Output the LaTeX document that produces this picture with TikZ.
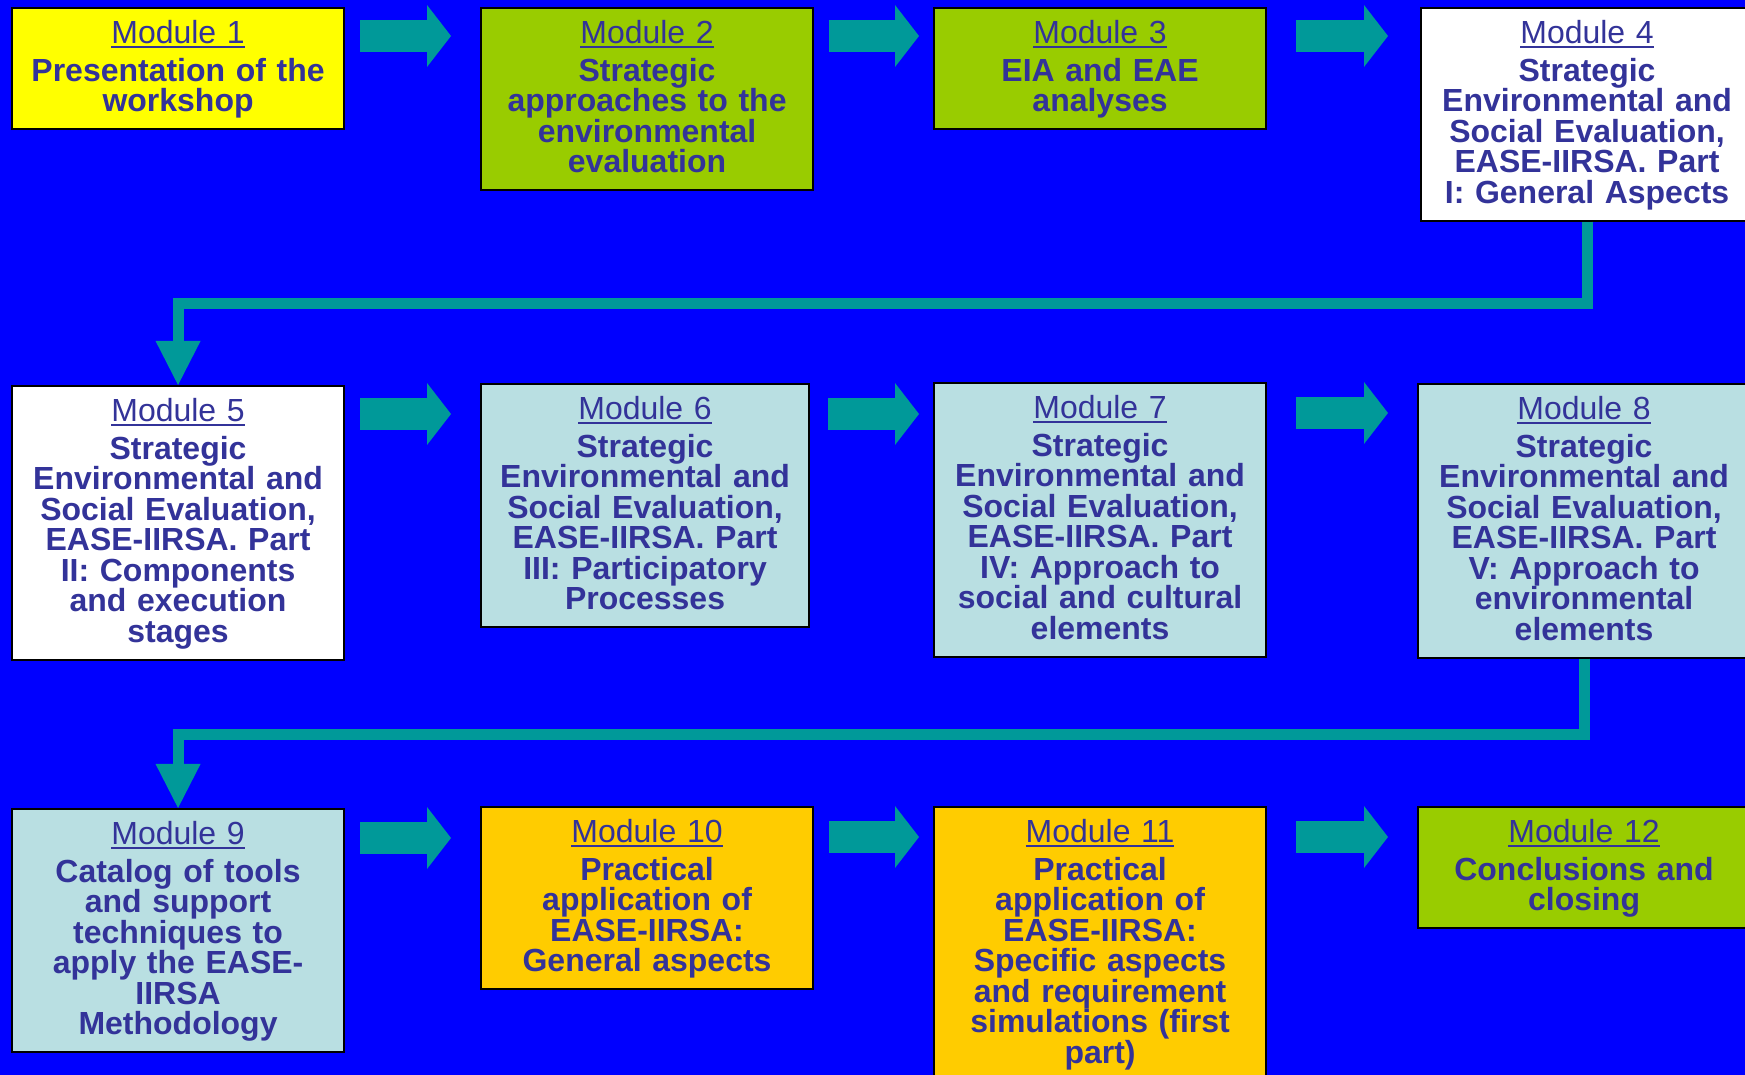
\documentclass[tikz,border=0pt]{standalone}
\usepackage{fontspec}
\setmainfont{Liberation Sans}
\usepackage{xcolor}
\usepackage{tikz}
\usetikzlibrary{arrows.meta, positioning}

\definecolor{bgblue}{HTML}{0000FF}
\definecolor{modtext}{HTML}{333399}
\definecolor{modyellow}{HTML}{FFFF00}
\definecolor{modgreen}{HTML}{99CC00}
\definecolor{modaqua}{HTML}{B9DFE2}
\definecolor{modorange}{HTML}{FFCC00}
\definecolor{flowteal}{HTML}{009999}

% underlined module title
\newcommand\ulmod[1]{\setbox0\hbox{#1}\rlap{\rule[-1.55pt]{\wd0}{0.7pt}}\box0}
\newcommand\modtitle[1]{\rule{0pt}{0.35cm}\textmd{\ulmod{Module #1}}}

\begin{document}
\begin{tikzpicture}
            %Block styles
            \tikzstyle{module} = [draw=black, line width=0.6pt, rectangle, anchor=north west, inner xsep=0pt, inner ysep=0pt, text width=3.32cm, align=center, text=modtext, font=\bfseries\fontsize{9.1}{8.68}\selectfont, execute at end node={\rule[-0.175cm]{0pt}{0.175cm}}]
            \tikzstyle{flow} = [draw=flowteal, line width=0.32cm, -{Triangle[length=0.24cm, width=0.62cm, line width=0pt]}]
            \tikzstyle{wrap} = [draw=flowteal, line width=0.11cm, -{Triangle[length=0.44cm, width=0.45cm, line width=0pt]}]

            \useasboundingbox (0,0) rectangle (17.45,-10.75);
            \fill[bgblue] (0,0) rectangle (17.45,-10.75);
            \clip (0,0) rectangle (17.45,-10.75);

            %Row 1
            \node[module, fill=modyellow] at (0.11,-0.07) (m1) {\modtitle{1}\\[0.075cm]Presentation of the\\workshop};
            \node[module, fill=modgreen] at (4.80,-0.07) (m2) {\modtitle{2}\\[0.075cm]Strategic\\approaches to the\\environmental\\evaluation};
            \node[module, fill=modgreen] at (9.33,-0.07) (m3) {\modtitle{3}\\[0.075cm]EIA and EAE\\analyses};
            \node[module, fill=white] at (14.20,-0.07) (m4) {\modtitle{4}\\[0.075cm]Strategic\\Environmental and\\Social Evaluation,\\EASE-IIRSA. Part\\I: General Aspects};

            %Row 2
            \node[module, fill=white] at (0.11,-3.85) (m5) {\modtitle{5}\\[0.075cm]Strategic\\Environmental and\\Social Evaluation,\\EASE-IIRSA. Part\\II: Components\\and execution\\stages};
            \node[module, fill=modaqua, text width=3.28cm] at (4.80,-3.83) (m6) {\modtitle{6}\\[0.075cm]Strategic\\Environmental and\\Social Evaluation,\\EASE-IIRSA. Part\\III: Participatory\\Processes};
            \node[module, fill=modaqua] at (9.33,-3.82) (m7) {\modtitle{7}\\[0.075cm]Strategic\\Environmental and\\Social Evaluation,\\EASE-IIRSA. Part\\IV: Approach to\\social and cultural\\elements};
            \node[module, fill=modaqua] at (14.17,-3.83) (m8) {\modtitle{8}\\[0.075cm]Strategic\\Environmental and\\Social Evaluation,\\EASE-IIRSA. Part\\V: Approach to\\environmental\\elements};

            %Row 3
            \node[module, fill=modaqua] at (0.11,-8.08) (m9) {\modtitle{9}\\[0.075cm]Catalog of tools\\and support\\techniques to\\apply the EASE-\\IIRSA\\Methodology};
            \node[module, fill=modorange] at (4.80,-8.06) (m10) {\modtitle{10}\\[0.075cm]Practical\\application of\\EASE-IIRSA:\\General aspects};
            \node[module, fill=modorange] at (9.33,-8.06) (m11) {\modtitle{11}\\[0.075cm]Practical\\application of\\EASE-IIRSA:\\Specific aspects\\and requirement\\simulations (first\\part)};
            \node[module, fill=modgreen] at (14.17,-8.06) (m12) {\modtitle{12}\\[0.075cm]Conclusions and\\closing};

            %Arrows along the rows
            \draw[flow, shorten >=0.29cm] ([shift={(0.15,-0.29)}]m1.north east) coordinate (a1) -- (a1 -| m2.west);
            \draw[flow, shorten >=0.14cm] ([shift={(0.15,-0.29)}]m2.north east) coordinate (a2) -- (a2 -| m3.west);
            \draw[flow, shorten >=0.32cm] ([shift={(0.29,-0.29)}]m3.north east) coordinate (a3) -- (a3 -| m4.west);
            \draw[flow, shorten >=0.29cm] ([shift={(0.15,-0.29)}]m5.north east) coordinate (b1) -- (b1 -| m6.west);
            \draw[flow, shorten >=0.14cm] ([shift={(0.18,-0.31)}]m6.north east) coordinate (b2) -- (b2 -| m7.west);
            \draw[flow, shorten >=0.29cm] ([shift={(0.29,-0.31)}]m7.north east) coordinate (b3) -- (b3 -| m8.west);
            \draw[flow, shorten >=0.29cm] ([shift={(0.15,-0.30)}]m9.north east) coordinate (c1) -- (c1 -| m10.west);
            \draw[flow, shorten >=0.14cm] ([shift={(0.15,-0.31)}]m10.north east) coordinate (c2) -- (c2 -| m11.west);
            \draw[flow, shorten >=0.29cm] ([shift={(0.29,-0.31)}]m11.north east) coordinate (c3) -- (c3 -| m12.west);

            %Arrows from one row to the next
            \draw[wrap] (m4.south) -- ++(0,-0.82) -| (m5.north);
            \draw[wrap] (m8.south) -- ++(0,-0.76) -| (m9.north);
        \end{tikzpicture}
\end{document}
